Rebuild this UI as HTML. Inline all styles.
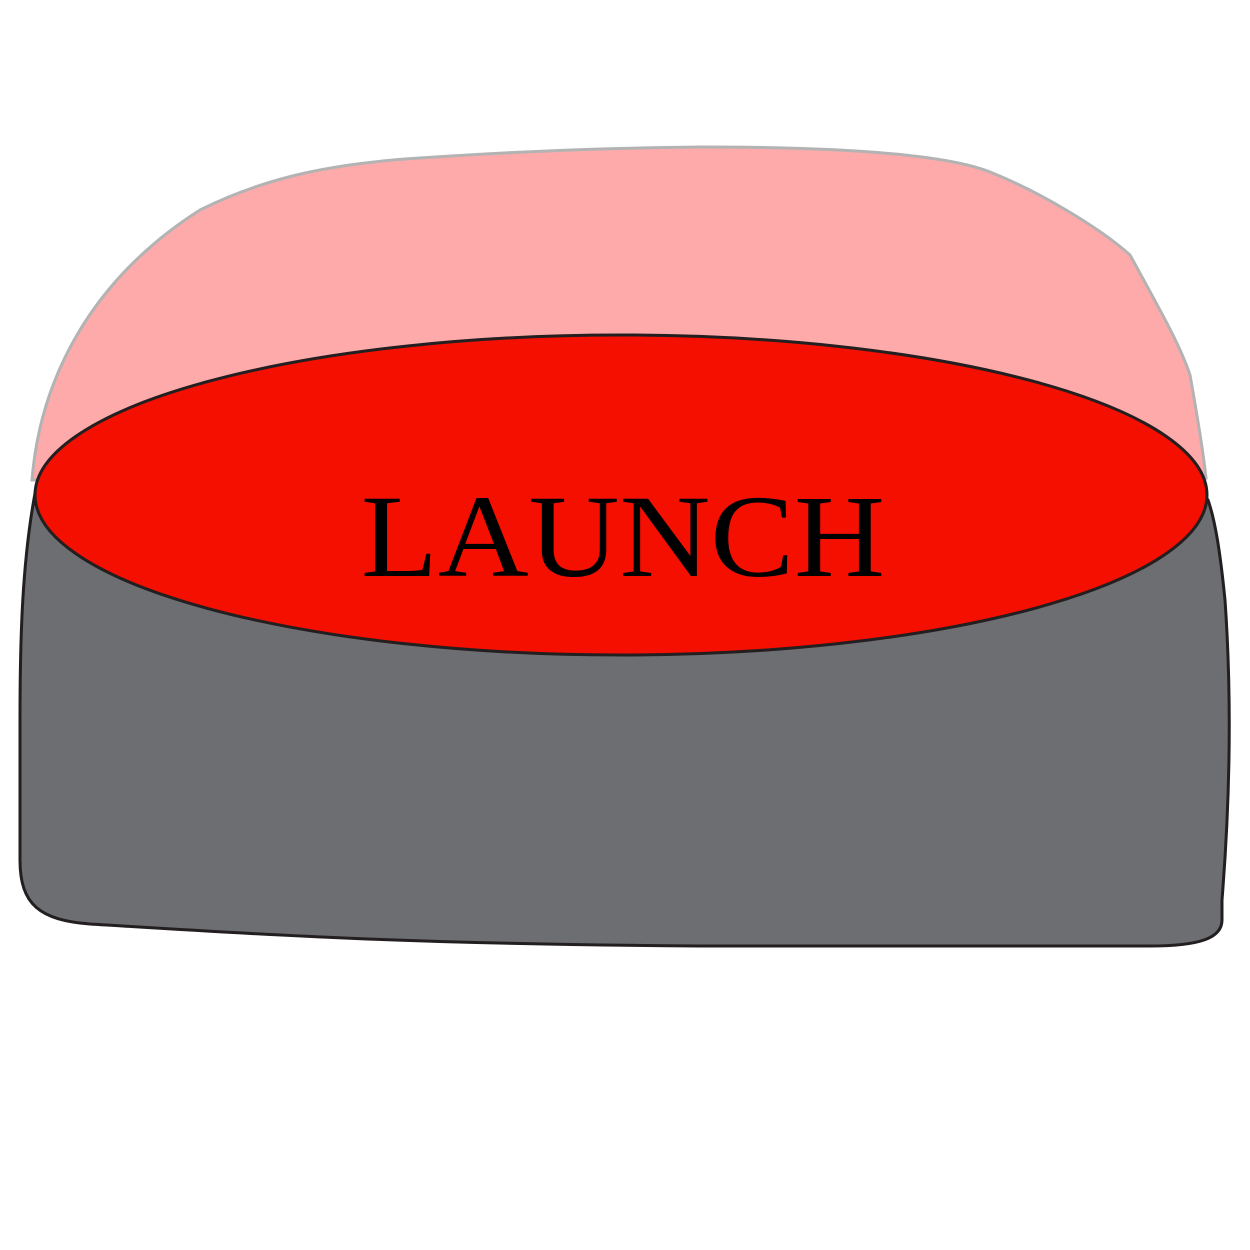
<!DOCTYPE html>
<html>
<head>
<meta charset="utf-8">
<style>
  html,body{margin:0;padding:0;background:#fff;}
  svg{display:block;}
</style>
</head>
<body>
<svg width="1250" height="1250" viewBox="0 0 1250 1250">
  <path
    d="M32,480 C40,380 90,280 200,210 C270,175 340,163 420,158 C540,150 620,148 700,147 C820,147 940,152 990,172 C1040,192 1100,228 1130,255 C1160,310 1180,345 1190,375 C1198,420 1203,450 1206,478 Z"
    fill="#ffaaaa" stroke="#b3b3b3" stroke-width="3"/>
  <path
    d="M36,488 C22,560 20,640 20,720 L20,860 C20,905 40,920 90,924 C250,934 400,944 700,946 L1150,946 C1200,946 1222,938 1222,920 L1222,900 C1230,800 1232,700 1225,600 C1220,550 1215,520 1208,500 Z"
    fill="#6d6e71" stroke="#231f20" stroke-width="3"/>
  <ellipse cx="621" cy="495" rx="586" ry="160"
    fill="#f40f00" stroke="#231f20" stroke-width="3"/>
  <text x="361" y="576" textLength="524" lengthAdjust="spacingAndGlyphs"
    font-family="'Liberation Serif', serif" font-size="118" fill="#000">LAUNCH</text>
</svg>
</body>
</html>
